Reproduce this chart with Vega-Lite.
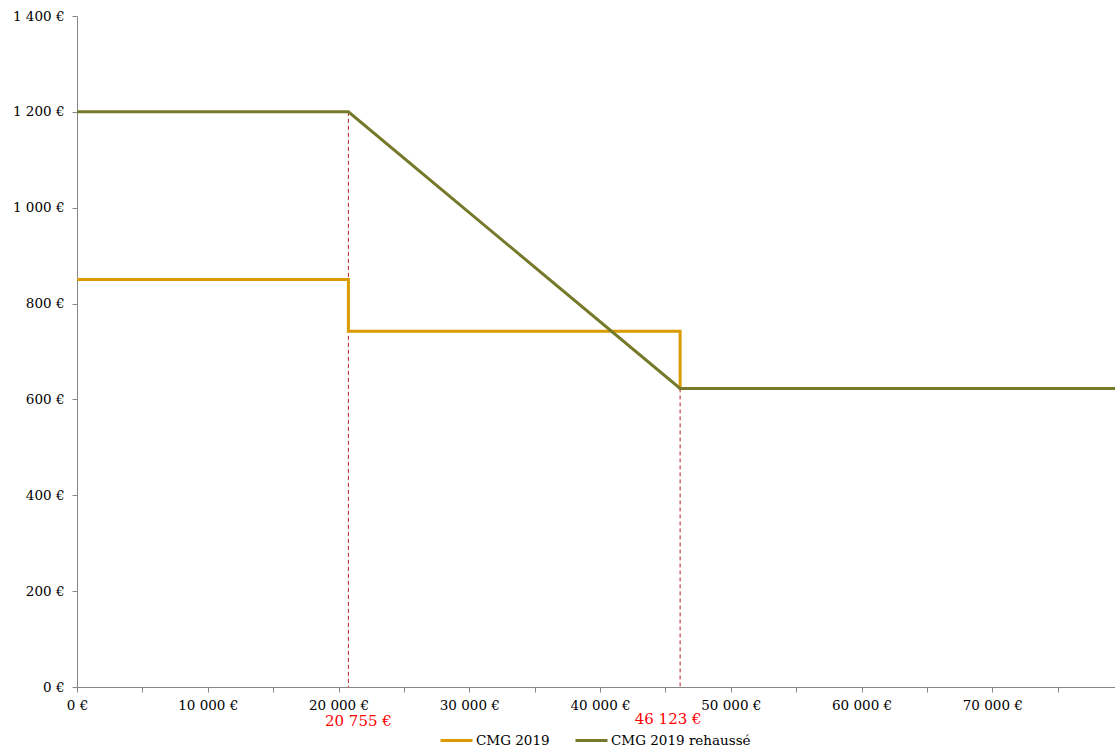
{
  "$schema": "https://vega.github.io/schema/vega-lite/v6.json",
  "width": 1038,
  "height": 671,
  "autosize": {"type": "none"},
  "padding": {"left": 77, "top": 16, "right": 0, "bottom": 60},
  "background": "white",
  "config": {
    "view": {"stroke": null},
    "font": "DejaVu Serif",
    "axis": {"labelFont": "DejaVu Serif", "labelFontSize": 13.5, "labelColor": "#000000", "domainColor": "#868686", "tickColor": "#868686", "grid": false, "title": null}
  },
  "datasets": {
    "lines": [
      {"series": "CMG 2019", "i": 0, "revenu": 0, "montant": 850},
      {"series": "CMG 2019", "i": 1, "revenu": 20755, "montant": 850},
      {"series": "CMG 2019", "i": 2, "revenu": 20755, "montant": 742},
      {"series": "CMG 2019", "i": 3, "revenu": 46123, "montant": 742},
      {"series": "CMG 2019", "i": 4, "revenu": 46123, "montant": 623},
      {"series": "CMG 2019", "i": 5, "revenu": 79380, "montant": 623},
      {"series": "CMG 2019 rehaussé", "i": 0, "revenu": 0, "montant": 1200},
      {"series": "CMG 2019 rehaussé", "i": 1, "revenu": 20755, "montant": 1200},
      {"series": "CMG 2019 rehaussé", "i": 2, "revenu": 46123, "montant": 623},
      {"series": "CMG 2019 rehaussé", "i": 3, "revenu": 79380, "montant": 623}
    ],
    "seuils": [
      {"seuil": 20755, "haut": 1200, "label": "20 755 €"},
      {"seuil": 46123, "haut": 623, "label": "46 123 €"}
    ]
  },
  "layer": [
    {
      "data": {"name": "seuils"},
      "mark": {"type": "rule", "color": "#B8202A", "strokeDash": [4, 3], "strokeWidth": 1},
      "encoding": {
        "x": {"field": "seuil", "type": "quantitative", "scale": {"domain": [0, 79380], "nice": false}},
        "y": {"field": "haut", "type": "quantitative", "scale": {"domain": [0, 1400], "nice": false}},
        "y2": {"datum": 0}
      }
    },
    {
      "data": {"name": "lines"},
      "mark": {"type": "line", "strokeWidth": 3, "clip": true},
      "encoding": {
        "x": {
          "field": "revenu", "type": "quantitative",
          "axis": {
            "values": [0, 5000, 10000, 15000, 20000, 25000, 30000, 35000, 40000, 45000, 50000, 55000, 60000, 65000, 70000, 75000],
            "labelExpr": "datum.value % 10000 == 0 ? replace(format(datum.value, ','), regexp(',', 'g'), ' ') + ' €' : ''",
            "tickSize": 5, "labelPadding": 6, "labelFlush": false, "labelOverlap": false
          }
        },
        "y": {
          "field": "montant", "type": "quantitative",
          "axis": {
            "values": [0, 200, 400, 600, 800, 1000, 1200, 1400],
            "labelExpr": "replace(format(datum.value, ','), regexp(',', 'g'), ' ') + ' €'",
            "tickSize": 5, "labelPadding": 8
          }
        },
        "order": {"field": "i", "type": "quantitative"},
        "color": {
          "field": "series", "type": "nominal",
          "scale": {"domain": ["CMG 2019", "CMG 2019 rehaussé"], "range": ["#DA9C00", "#76792A"]},
          "legend": {
            "title": null, "orient": "none", "direction": "horizontal",
            "legendX": 362, "legendY": 707,
            "symbolType": "stroke", "symbolStrokeWidth": 3, "symbolSize": 1024,
            "labelFont": "DejaVu Serif", "labelFontSize": 13.5, "labelColor": "#000000",
            "columnPadding": 19, "symbolOffset": 0, "labelOffset": 2
          }
        }
      }
    },
    {
      "data": {"name": "seuils"},
      "transform": [{"filter": "datum.seuil < 30000"}],
      "mark": {"type": "text", "color": "#FF0000", "fontSize": 15, "font": "DejaVu Serif", "dx": 10, "dy": 34, "baseline": "middle"},
      "encoding": {
        "x": {"field": "seuil", "type": "quantitative"},
        "y": {"datum": 0},
        "text": {"field": "label"}
      }
    },
    {
      "data": {"name": "seuils"},
      "transform": [{"filter": "datum.seuil > 30000"}],
      "mark": {"type": "text", "color": "#FF0000", "fontSize": 15, "font": "DejaVu Serif", "dx": -12, "dy": 32, "baseline": "middle"},
      "encoding": {
        "x": {"field": "seuil", "type": "quantitative"},
        "y": {"datum": 0},
        "text": {"field": "label"}
      }
    }
  ]
}
